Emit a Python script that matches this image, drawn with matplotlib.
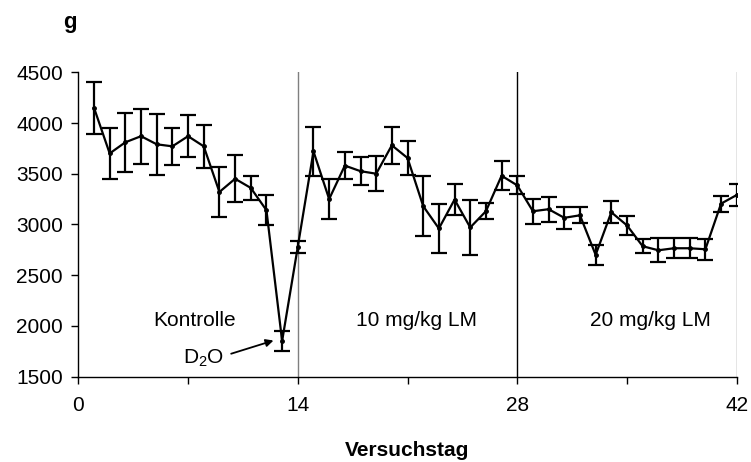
import numpy as np
import matplotlib
matplotlib.use("Agg")
import matplotlib.pyplot as plt

plt.rcParams['font.family'] = ['Liberation Sans', 'DejaVu Sans']
plt.rcParams['mathtext.fontset'] = 'custom'
plt.rcParams['mathtext.rm'] = 'Liberation Sans'
plt.rcParams['mathtext.it'] = 'Liberation Sans'

# Versuchstage 1..42
days = list(range(1, 43))

weight = [4150, 3700, 3810, 3870, 3790, 3770, 3870, 3770, 3320, 3450, 3360, 3140, 1850, 2780,
          3720, 3250, 3580, 3525, 3500, 3780, 3655, 3180, 2960, 3245, 2970, 3130, 3480, 3385,
          3130, 3150, 3065, 3090, 2700, 3120, 2990, 2785, 2745, 2765, 2765, 2755, 3205, 3290]

err = [255, 250, 290, 270, 300, 185, 210, 215, 250, 230, 120, 150, 100, 60,
       240, 195, 135, 140, 175, 185, 165, 295, 245, 150, 275, 80, 145, 88,
       125, 125, 110, 80, 100, 110, 90, 70, 120, 100, 100, 105, 80, 110]

phases = ['Kontrolle', '10 mg/kg LM', '20 mg/kg LM']
phase_x = [7.4, 21.6, 36.5]
phase_y = 2050

FS = 15

fig = plt.figure(figsize=(7.51, 4.62), dpi=100)
ax = fig.add_axes([0.1043, 0.185, 0.8767, 0.6585])

ax.errorbar(days, weight, yerr=err, color='black', lw=1.6, elinewidth=1.6,
            capsize=5.8, capthick=1.6, marker='o', ms=2.5, zorder=3)

ax.axvline(14, color='#7f7f7f', lw=1.0, zorder=1)
ax.axvline(28, color='black', lw=1.0, zorder=1)
ax.axvline(42, color='#7f7f7f', lw=1.0, zorder=1)

for name, x in zip(phases, phase_x):
    ax.text(x, phase_y, name, ha='center', va='center', fontsize=FS)

ax.text(8.0, 1680, 'D$_2$O', ha='center', va='center', fontsize=FS)
ax.annotate('', xy=(12.45, 1855), xytext=(9.75, 1725),
            arrowprops=dict(arrowstyle='-|>', color='black', lw=1.3,
                            mutation_scale=11, shrinkA=0, shrinkB=0))

ax.set_xlim(0, 42)
ax.set_ylim(1500, 4500)
ax.set_xticks([0, 14, 28, 42])
ax.set_xticks([7, 21, 35], minor=True)
ax.set_yticks(range(1500, 4501, 500))
ax.tick_params(axis='both', labelsize=FS, length=5, width=1, direction='out', pad=6)
ax.tick_params(axis='x', which='minor', length=5, width=1)
ax.tick_params(axis='x', pad=9)
for s in ['top', 'right']:
    ax.spines[s].set_visible(False)
for s in ['left', 'bottom']:
    ax.spines[s].set_linewidth(1.0)

ax.set_xlabel('Versuchstag', fontsize=FS, fontweight='bold', labelpad=19)
fig.text(0.093, 0.952, 'g', fontsize=16, fontweight='bold', ha='center', va='center')

fig.savefig('out.png', dpi=100)
